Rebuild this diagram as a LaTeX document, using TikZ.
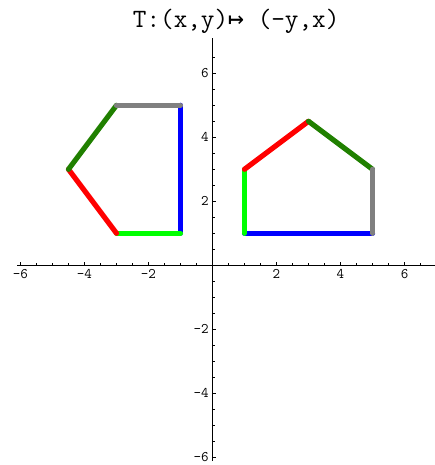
\documentclass[tikz,border=0pt]{standalone}
\usepackage{fontspec}
\newfontfamily\arrowfont{DejaVu Sans Mono}
\definecolor{dkgreen}{RGB}{32,128,0}
\definecolor{limeg}{RGB}{0,255,0}
\begin{document}
\begin{tikzpicture}[x=1cm,y=1cm,
  axisline/.style={line width=0.6pt, black},
  tickline/.style={line width=0.5pt, black},
  edge/.style={line width=4.6pt, line cap=round},
  ticklabel/.style={font=\ttfamily\fontsize{13}{15}\selectfont, inner sep=1pt}]
\useasboundingbox (-6.64,-6.24) rectangle (6.95,8.29);
% axes
\coordinate (xl) at (-6.1,0);
\coordinate (xr) at (6.95,0);
\coordinate (yb) at (0,-6.1);
\coordinate (yt) at (0,7.1);
\draw[axisline] (xl) -- (xr);
\draw[axisline] (yb) -- (yt);
% ticks
\foreach \v in {-6,-4,-2,2,4,6}{
  \draw[tickline] (\v,0) -- (\v,0.11);
  \draw[tickline] (0,\v) -- (0.11,\v);
  \node[ticklabel, anchor=north] (xt\v) at (\v,-0.08) {\v};
  \node[ticklabel, anchor=east] (yt\v) at (-0.08,\v) {\v};
}
\foreach \v in {-5.5,-5,-4.5,-3.5,-3,-2.5,-1.5,-1,-0.5,0.5,1,1.5,2.5,3,3.5,4.5,5,5.5,6.5}{
  \draw[tickline] (\v,0) -- (\v,0.07);
  \draw[tickline] (0,\v) -- (0.07,\v);
}
% title
\node[anchor=base, inner sep=0pt] (title) at (0.74,7.42)
  {\fontsize{23.5}{26}\selectfont\ttfamily T:(x,y){\arrowfont ↦} (-y,x)};
% right pentagon
\coordinate (A) at (1,1);
\coordinate (B) at (5,1);
\coordinate (C) at (5,3);
\coordinate (D) at (3,4.5);
\coordinate (E) at (1,3);
% left (rotated) pentagon
\coordinate (A') at (-1,1);
\coordinate (B') at (-1,5);
\coordinate (C') at (-3,5);
\coordinate (D') at (-4.5,3);
\coordinate (E') at (-3,1);
\foreach \p in {,'}{
  \draw[edge, blue] (A\p) -- (B\p);
  \draw[edge, limeg] (E\p) -- (A\p);
  \draw[edge, red] (D\p) -- (E\p);
  \draw[edge, dkgreen] (C\p) -- (D\p);
  \draw[edge, gray] (B\p) -- (C\p);
}
\end{tikzpicture}
\end{document}
